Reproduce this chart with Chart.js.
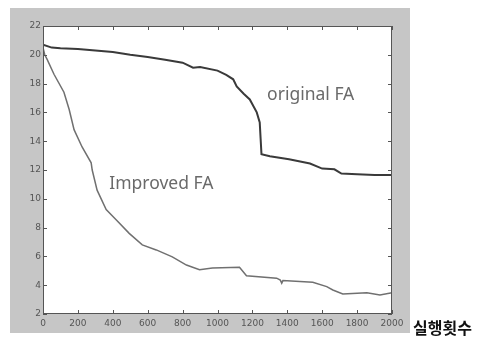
<!DOCTYPE html>
<html>
<head>
<meta charset="utf-8">
<script src="https://cdn.jsdelivr.net/npm/chart.js@4.4.1/dist/chart.umd.min.js"></script>
<style>
  html, body { margin: 0; padding: 0; background: #fff; }
  #wrap { width: 486px; height: 338px; position: relative; }
</style>
</head>
<body>
<div id="wrap"><canvas id="faChart"></canvas></div>
<script>
// iterations and fitness values
var originalIter = [0, 50, 100, 200, 300, 400, 500, 600, 700, 800, 860, 900, 1000, 1050, 1090, 1110, 1150, 1185, 1225, 1242, 1247, 1252, 1300, 1410, 1530, 1600, 1670, 1710, 1800, 1900, 2000];
var originalFA = [20.7, 20.5, 20.45, 20.4, 20.3, 20.2, 20.0, 19.85, 19.65, 19.45, 19.1, 19.15, 18.9, 18.6, 18.3, 17.8, 17.3, 16.9, 16.0, 15.3, 14.2, 13.1, 12.95, 12.75, 12.45, 12.1, 12.05, 11.75, 11.7, 11.65, 11.65];

var improvedIter = [0, 10, 23, 63, 120, 150, 178, 224, 276, 282, 310, 362, 419, 494, 569, 649, 741, 822, 897, 971, 1126, 1166, 1339, 1360, 1368, 1375, 1546, 1626, 1661, 1718, 1856, 1931, 2000];
var improvedFA = [20.5, 20.0, 19.7, 18.65, 17.4, 16.2, 14.8, 13.6, 12.5, 12.0, 10.6, 9.25, 8.55, 7.6, 6.8, 6.45, 5.97, 5.4, 5.07, 5.19, 5.25, 4.65, 4.49, 4.35, 4.14, 4.32, 4.21, 3.9, 3.67, 3.39, 3.48, 3.32, 3.48];

var xTicks = [0, 200, 400, 600, 800, 1000, 1200, 1400, 1600, 1800, 2000];
var yTicks = [2, 4, 6, 8, 10, 12, 14, 16, 18, 20, 22];

var curveLabels = [
    { text: 'original FA', x: 1534, y: 17.2 },
    { text: 'Improved FA', x: 678, y: 11.0 }
];
var xAxisName = '실행횟수';

function toPoints(xs, ys) {
    var pts = [];
    for (var i = 0; i < xs.length; i++) pts.push({ x: xs[i], y: ys[i] });
    return pts;
}

// gray frame, inward ticks, box, text labels (matlab look)
var matlabLook = {
    id: 'matlabLook',
    beforeDraw: function (chart) {
        var c = chart.ctx, a = chart.chartArea;
        c.save();
        c.fillStyle = '#c6c6c6';
        c.fillRect(a.left - 33, a.top - 18, a.right - a.left + 51, a.bottom - a.top + 37);
        c.fillStyle = '#ffffff';
        c.fillRect(a.left, a.top, a.right - a.left, a.bottom - a.top);
        c.restore();
    },
    afterDraw: function (chart) {
        var c = chart.ctx, a = chart.chartArea;
        var xs = chart.scales.x, ys = chart.scales.y;
        c.save();
        c.strokeStyle = '#555';
        c.lineWidth = 1;
        c.strokeRect(a.left + 0.5, a.top + 0.5, a.right - a.left - 1, a.bottom - a.top - 1);
        c.beginPath();
        xTicks.forEach(function (v) {
            var px = Math.round(xs.getPixelForValue(v)) + 0.5;
            c.moveTo(px, a.bottom); c.lineTo(px, a.bottom - 4);
            c.moveTo(px, a.top); c.lineTo(px, a.top + 4);
        });
        yTicks.forEach(function (v) {
            var py = Math.round(ys.getPixelForValue(v)) + 0.5;
            c.moveTo(a.left, py); c.lineTo(a.left + 4, py);
            c.moveTo(a.right, py); c.lineTo(a.right - 4, py);
        });
        c.stroke();

        c.fillStyle = '#6a6a6a';
        c.font = '17.5px "Noto Sans"';
        c.textAlign = 'center';
        c.textBaseline = 'middle';
        curveLabels.forEach(function (l) {
            c.fillText(l.text, xs.getPixelForValue(l.x), ys.getPixelForValue(l.y));
        });

        c.fillStyle = '#111';
        c.font = 'bold 16px "Noto Sans CJK KR"';
        c.textAlign = 'left';
        c.fillText(xAxisName, a.right + 21, a.bottom + 14);
        c.restore();
    }
};

new Chart(document.getElementById('faChart'), {
    type: 'line',
    data: {
        datasets: [
            {
                label: 'original FA',
                data: toPoints(originalIter, originalFA),
                borderColor: '#3a3a3a',
                borderWidth: 2,
                pointRadius: 0,
                tension: 0
            },
            {
                label: 'Improved FA',
                data: toPoints(improvedIter, improvedFA),
                borderColor: '#707070',
                borderWidth: 1.5,
                pointRadius: 0,
                tension: 0
            }
        ]
    },
    options: {
        responsive: true,
        maintainAspectRatio: false,
        animation: false,
        layout: { padding: { left: 10, top: 26, right: 94, bottom: 4 } },
        plugins: {
            legend: { display: false },
            tooltip: { enabled: false }
        },
        scales: {
            x: {
                type: 'linear',
                min: 0,
                max: 2000,
                afterFit: function (s) { s.height = 20; },
                afterBuildTicks: function (s) { s.ticks = xTicks.map(function (v) { return { value: v }; }); },
                grid: { display: false, drawTicks: false },
                border: { display: false },
                ticks: {
                    color: '#555', padding: 4, maxRotation: 0,
                    font: { family: 'DejaVu Sans', size: 9 },
                    callback: function (v) { return String(v); }
                }
            },
            y: {
                min: 2,
                max: 22,
                afterFit: function (s) { s.width = 33; },
                afterBuildTicks: function (s) { s.ticks = yTicks.map(function (v) { return { value: v }; }); },
                grid: { display: false, drawTicks: false },
                border: { display: false },
                ticks: {
                    color: '#555', padding: 2,
                    font: { family: 'DejaVu Sans', size: 9 },
                    callback: function (v) { return String(v); }
                }
            }
        }
    },
    plugins: [matlabLook]
});
</script>
</body>
</html>
